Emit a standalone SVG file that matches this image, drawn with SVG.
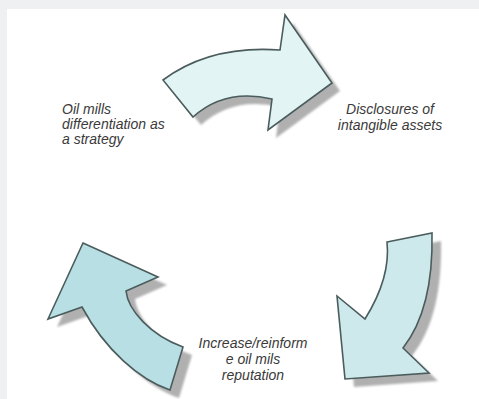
<svg xmlns="http://www.w3.org/2000/svg" width="479" height="399" viewBox="0 0 479 399">
<defs>
<filter id="blur" x="-20%" y="-20%" width="140%" height="140%"><feGaussianBlur stdDeviation="1"/></filter>
<style>
.shadow{fill:#b0b0b0;filter:url(#blur)}
.arrow{stroke:#4b5c5d;stroke-width:1.6;stroke-linejoin:miter}
.lbl{font-family:"Liberation Sans",Arial,sans-serif;font-style:italic;font-size:14px;fill:#3a3a3a}
</style>
</defs>
<rect width="479" height="399" fill="#eff0f2"/>
<rect x="7" y="9" width="472" height="390" fill="#ffffff"/>
<g id="connectors">
<g id="arrow-top">
<path class="shadow" transform="translate(8,8)" d="M163,80 Q210,45 280,50 L285,15 L332,83 L268,130 L272,99 Q225,88 193,117 Z"/>
<path class="arrow" fill="#e3f4f5" d="M163,80 Q210,45 280,50 L285,15 L332,83 L268,130 L272,99 Q225,88 193,117 Z"/>
</g>
<g id="arrow-right">
<path class="shadow" transform="translate(9,8)" d="M387,242 L432,233 C433,280 425,320 403,348 L429,373 L345,379 L337,296 L365,319 C380,295 390,270 387,242 Z"/>
<path class="arrow" fill="#cde9ec" d="M387,242 L432,233 C433,280 425,320 403,348 L429,373 L345,379 L337,296 L365,319 C380,295 390,270 387,242 Z"/>
</g>
<g id="arrow-left">
<path class="shadow" transform="translate(9,8)" d="M83,243 L158,277 L126,291 C128,310 150,335 183,347 L170,390 C140,380 105,350 82,307 L48,319 Z"/>
<path class="arrow" fill="#b8dfe4" d="M83,243 L158,277 L126,291 C128,310 150,335 183,347 L170,390 C140,380 105,350 82,307 L48,319 Z"/>
</g>
</g>
<g id="node-oil-mills">
<text class="lbl" x="62" y="114">Oil mills</text>
<text class="lbl" x="62" y="129">differentiation as</text>
<text class="lbl" x="62" y="144">a strategy</text>
</g>
<g id="node-disclosures">
<text class="lbl" x="390" y="114" text-anchor="middle">Disclosures of</text>
<text class="lbl" x="390" y="130" text-anchor="middle">intangible assets</text>
</g>
<g id="node-reputation">
<text class="lbl" x="253" y="348" text-anchor="middle">Increase/reinform</text>
<text class="lbl" x="253" y="364" text-anchor="middle">e oil mils</text>
<text class="lbl" x="253" y="380" text-anchor="middle">reputation</text>
</g>
</svg>
